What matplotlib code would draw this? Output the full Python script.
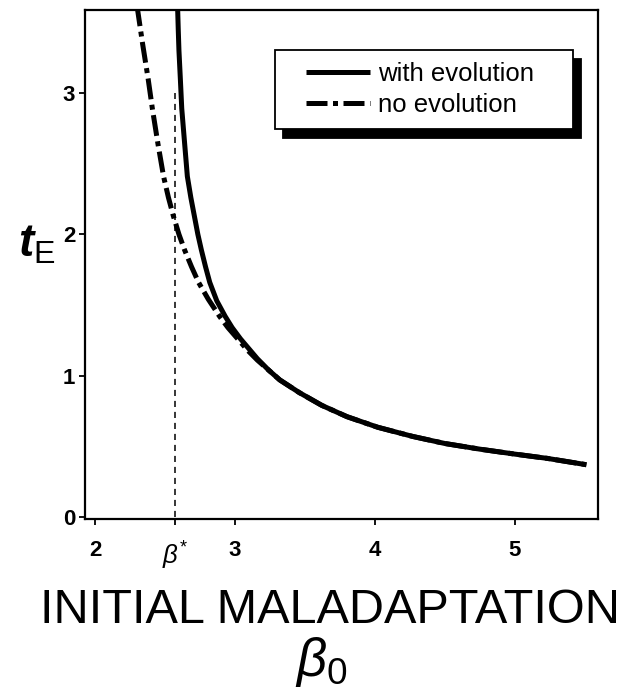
import matplotlib
matplotlib.use("Agg")
import matplotlib.pyplot as plt
from matplotlib.legend_handler import HandlerLine2D

plt.rcParams['mathtext.fontset'] = 'custom'
plt.rcParams['mathtext.rm'] = 'Liberation Sans'
plt.rcParams['mathtext.it'] = 'Liberation Sans:italic'
plt.rcParams['mathtext.bf'] = 'Liberation Sans:italic:bold'
plt.rcParams['font.family'] = ['Liberation Sans', 'DejaVu Sans']

# Data
beta_evol = [2.59, 2.595, 2.60, 2.61, 2.62, 2.64, 2.66, 2.685, 2.71, 2.735, 2.76, 2.79, 2.82, 2.87,
             2.93, 2.98, 3.04, 3.10, 3.16, 3.24, 3.32, 3.46, 3.62, 3.80, 4.02, 4.27, 4.50,
             4.75, 5.00, 5.23, 5.51]
t_evol = [3.62, 3.45, 3.30, 3.10, 2.89, 2.65, 2.41, 2.26, 2.13, 2.00, 1.89, 1.77, 1.66, 1.53,
          1.42, 1.34, 1.26, 1.19, 1.12, 1.04, 0.97, 0.88, 0.79, 0.71, 0.635, 0.57, 0.52,
          0.48, 0.445, 0.415, 0.37]

beta_noevo = [2.30, 2.34, 2.38, 2.41, 2.45, 2.49, 2.525, 2.56, 2.60, 2.64, 2.69, 2.74, 2.81,
              2.89, 2.95, 3.02, 3.09, 3.16, 3.24, 3.32, 3.46, 3.62, 3.80, 4.02, 4.27, 4.50,
              4.75, 5.00, 5.23, 5.51]
t_noevo = [3.62, 3.35, 3.10, 2.89, 2.64, 2.41, 2.26, 2.13, 2.00, 1.89, 1.77, 1.66, 1.54,
           1.42, 1.34, 1.26, 1.18, 1.11, 1.04, 0.97, 0.88, 0.79, 0.71, 0.635, 0.57, 0.52,
           0.48, 0.445, 0.415, 0.37]

beta_star = 2.57
dashed_top = 3.0

xticks = [2, beta_star, 3, 4, 5]
xticklabels = ['2', r'$\beta^{*}$', '3', '4', '5']
yticks = [0, 1, 2, 3]
yticklabels = ['0', '1', '2', '3']

fig = plt.figure(figsize=(6.26, 6.94), dpi=100)
ax = fig.add_axes([85 / 626, 1 - 519 / 694, 513 / 626, 509 / 694])

ax.plot(beta_evol, t_evol, color='black', lw=3.6, solid_capstyle='butt',
        label='with evolution')
ax.plot(beta_noevo, t_noevo, color='black', lw=3.6, dashes=[4.2, 1.1, 1.0, 1.1],
        label='no evolution')
ax.vlines(beta_star, 0, dashed_top, colors='black', lw=1.1, linestyles=(0, (4, 3.2)))

ax.set_xlim(1.929, 5.593)
ax.set_ylim(-0.014, 3.587)

ax.set_xticks(xticks)
ax.set_xticklabels(xticklabels)
ax.set_yticks(yticks)
ax.set_yticklabels(yticklabels)
ax.tick_params(axis='x', direction='out', length=4, width=1.3, pad=11, labelsize=16)
ax.tick_params(axis='y', direction='out', length=4, width=1.3, pad=3, labelsize=16)
for lab in ax.get_xticklabels() + ax.get_yticklabels():
    lab.set_fontweight('bold')
ax.get_xticklabels()[1].set_fontsize(18.5)
for sp in ax.spines.values():
    sp.set_linewidth(1.6)

ax.text(0.478, -0.135, 'INITIAL MALADAPTATION', transform=ax.transAxes,
        ha='center', va='top', fontsize=35)
ax.text(0.46, -0.228, r'$\beta_{0}$', transform=ax.transAxes,
        ha='center', va='top', fontsize=38)
ax.text(-0.094, 0.54, r'$\mathbf{t}_{\mathrm{E}}$', transform=ax.transAxes,
        ha='center', va='center', fontsize=33)

leg = ax.legend(loc='upper left', bbox_to_anchor=(0.370, 0.764, 0.581, 0.157),
                mode='expand', borderaxespad=0,
                fontsize=18.5, handlelength=3.25, handletextpad=0.3, borderpad=0.45,
                labelspacing=0.3, fancybox=False, framealpha=1, edgecolor='black',
                handler_map={plt.Line2D: HandlerLine2D(xpad=0.75)},
                shadow={'ox': 6, 'oy': -6.5, 'facecolor': 'black', 'edgecolor': 'black', 'alpha': 1})
leg.get_frame().set_linewidth(1.3)

fig.savefig('out.png', dpi=100)
